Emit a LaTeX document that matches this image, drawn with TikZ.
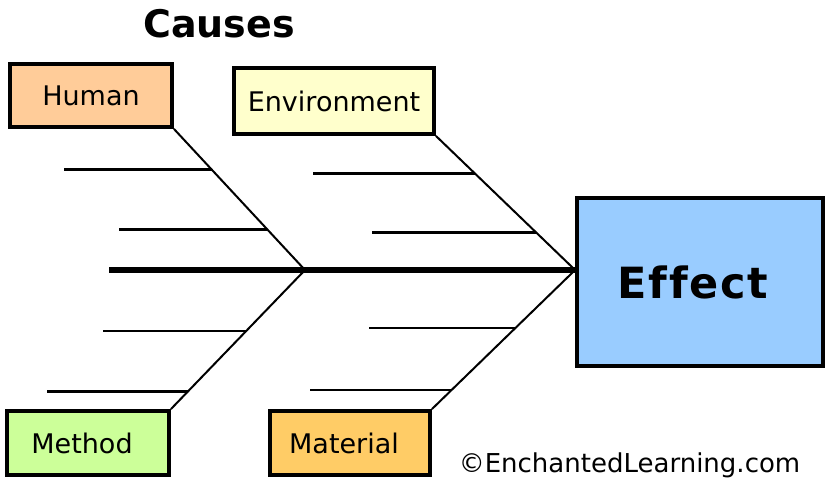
\documentclass[tikz,border=0pt]{standalone}
\usepackage{fontspec}
\setmainfont{DejaVu Sans}
\usetikzlibrary{calc}
\definecolor{humanfill}{HTML}{FFCC99}
\definecolor{envfill}{HTML}{FFFFCC}
\definecolor{effectfill}{HTML}{99CCFF}
\definecolor{methodfill}{HTML}{CCFF99}
\definecolor{materialfill}{HTML}{FFCC66}
\newcommand{\labelsize}{\fontsize{27}{30}\selectfont}
\tikzset{
  causebox/.style={draw=black, line width=3.8pt, inner sep=0pt, font=\labelsize},
  spineline/.style={line width=5.5pt},
  ribline/.style={line width=2pt},
  boneline/.style={line width=2.7pt},
}
\begin{document}
\begin{tikzpicture}[x=1pt,y=-1pt]
\useasboundingbox (0,0) rectangle (826,479);

% title
\node (title) [anchor=base, font=\bfseries\fontsize{38}{40}\selectfont] at (219,37) {Causes};

% cause boxes and effect box
\node (hum) [causebox, fill=humanfill, minimum width=162pt, minimum height=63pt] at (91,95.5) {Human};
\node (env) [causebox, fill=envfill, minimum width=200pt, minimum height=66pt] at (334,101) {Environment};
\node (met) [causebox, fill=methodfill, minimum width=162pt, minimum height=64pt] at (88,443) {Method\hspace*{12pt}};
\node (mat) [causebox, fill=materialfill, minimum width=160pt, minimum height=64pt] at (350,443) {Material\hspace*{12pt}};
\node (eff) [causebox, fill=effectfill, minimum width=246pt, minimum height=168pt,
  font=\bfseries\fontsize{43}{46}\selectfont] at (700,282)
  {\raisebox{-5pt}{\addfontfeature{LetterSpace=4,Ligatures=NoCommon}Effect}\hspace*{14pt}};

% joints on the spine
\coordinate (tail) at (109,270);
\coordinate (j1) at (305,270);
\coordinate (j2) at (eff.west |- tail);

% spine
\draw[spineline] (tail) -- (j2);

% ribs from the cause boxes to the spine
\draw[ribline] (hum.south east) -- (j1);
\draw[ribline] (met.north east) -- (j1);
\draw[ribline] (env.south east) -- (j2);
\draw[ribline] (mat.north east) -- (j2);

% bones along each rib
\draw[boneline] ($(hum.south east)!0.288!(j1)$) -- ++(-148,0);
\draw[boneline] ($(hum.south east)!0.712!(j1)$) -- ++(-148,0);
\draw[boneline] ($(env.south east)!0.278!(j2)$) -- ++(-162,0);
\draw[boneline] ($(env.south east)!0.722!(j2)$) -- ++(-164,0);
\draw[boneline] ($(j1)!0.439!(met.north east)$) -- ++(-143,0);
\draw[boneline] ($(j1)!0.871!(met.north east)$) -- ++(-141,0);
\draw[boneline] ($(j2)!0.417!(mat.north east)$) -- ++(-146,0);
\draw[boneline] ($(j2)!0.863!(mat.north east)$) -- ++(-142,0);

% credit line
\node (credit) [anchor=base, font=\fontsize{26}{28}\selectfont, inner sep=0pt] at (629.5,472) {©EnchantedLearning.com};
\end{tikzpicture}
\end{document}
